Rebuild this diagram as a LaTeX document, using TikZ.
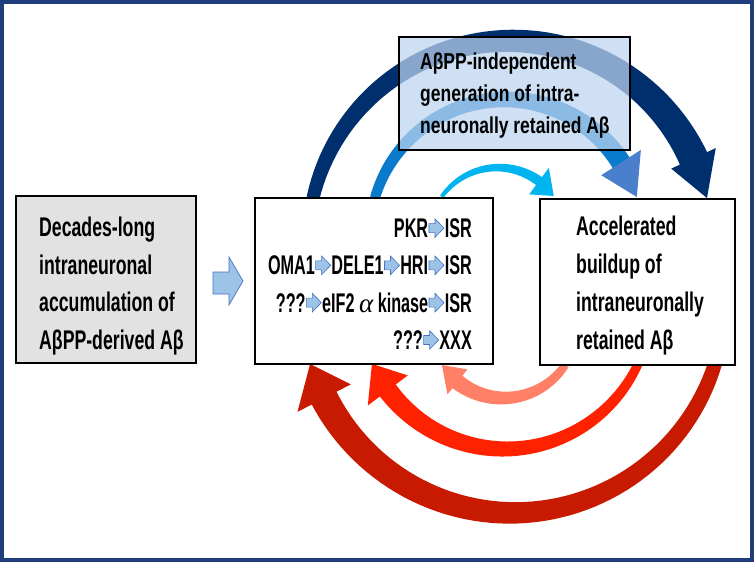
\documentclass[tikz,border=0pt]{standalone}
\usepackage{fontspec}
\setmainfont{Liberation Sans}[FakeStretch=0.655]
\newfontfamily\midfont{Liberation Sans}[FakeStretch=0.6]
\newfontfamily\topfont{Liberation Sans}[FakeStretch=0.76]
\newfontfamily\serifit{Liberation Serif}
\definecolor{framecol}{RGB}{31,61,122}
\definecolor{navyarc}{RGB}{0,47,110}
\definecolor{midblue}{RGB}{10,122,204}
\definecolor{midhead}{RGB}{74,127,203}
\definecolor{cyanarc}{RGB}{0,180,240}
\definecolor{darkred}{RGB}{200,26,0}
\definecolor{brightred}{RGB}{255,34,0}
\definecolor{salmon}{RGB}{255,128,102}
\definecolor{boxgray}{RGB}{226,226,226}
\definecolor{topfill}{RGB}{189,213,240}
\definecolor{arrowfill}{RGB}{157,195,230}
\definecolor{arrowline}{RGB}{68,114,196}
\newcommand\ba{\hspace{0.5pt}\tikz[x=1pt,y=1pt,baseline=0pt]\filldraw[fill=arrowfill,draw=arrowline,line width=0.6pt] (0,5) -- (6,5) -- (6,0.2) -- (15,9.5) -- (6,18.8) -- (6,14) -- (0,14) -- cycle;\hspace{0.5pt}}
% tapered curved arrow: cx cy R t1 t2 w1 w2 headwidth headlength
\newcommand\taper[9]{%
  \pgfmathsetmacro\tb{#5-(#9/#3)*180/pi}%
  \pgfmathsetmacro\te{\tb+0.8}%
  \fill[fill=\shaftc] plot[domain=#4:\te,samples=60] ({#1+(#3+(#6+(#7-#6)*(\x-#4)/(\te-#4))/2)*cos(\x)},{#2+(#3+(#6+(#7-#6)*(\x-#4)/(\te-#4))/2)*sin(\x)}) -- plot[domain=\te:#4,samples=60] ({#1+(#3-(#6+(#7-#6)*(\x-#4)/(\te-#4))/2)*cos(\x)},{#2+(#3-(#6+(#7-#6)*(\x-#4)/(\te-#4))/2)*sin(\x)}) -- cycle;
  \fill[fill=\headc] ({#1+(#3+#8/2)*cos(\tb)},{#2+(#3+#8/2)*sin(\tb)}) -- ({#1+#3*cos(#5)},{#2+#3*sin(#5)}) -- ({#1+(#3-#8/2)*cos(\tb)},{#2+(#3-#8/2)*sin(\tb)}) -- cycle;
}
\tikzset{
  box/.style={draw=black, line width=2.6pt, rectangle, inner sep=0pt},
  txt/.style={inner sep=0pt, font=\fontsize{27}{37.5}\selectfont\bfseries},
  toptxt/.style={inner sep=0pt, font=\topfont\fontsize{23}{32}\selectfont\bfseries},
}
\begin{document}
\begin{tikzpicture}[x=1pt,y=-1pt]
\useasboundingbox (0,0) rectangle (754,562);
\fill[white] (0,0) rectangle (754,562);
\draw[framecol, line width=3.5pt] (2,2) rectangle (752,560);
% blue arcs (upper)
\def\shaftc{navyarc}\def\headc{navyarc}
\taper{510}{242.8}{202}{192.8}{347.2}{13}{30}{49}{42}
\def\shaftc{midblue}\def\headc{midhead}
\taper{506}{236}{136.5}{196.2}{343.4}{10}{20}{47}{38}
\def\shaftc{cyanarc}\def\headc{cyanarc}
\taper{498}{236.6}{69}{215.3}{323.9}{4}{10}{33}{21}
% red arcs (lower)
\def\shaftc{darkred}\def\headc{darkred}
\taper{512.5}{300.9}{212}{17.3}{162.7}{14}{28}{60}{37}
\def\shaftc{brightred}\def\headc{brightred}
\taper{505}{302.4}{146.6}{24.8}{155.2}{9}{20}{50}{31}
\def\shaftc{salmon}\def\headc{salmon}
\taper{503.5}{324}{74}{33.7}{146.3}{8}{16}{32}{23}
% boxes
\node[box, fill=boxgray, minimum width=180pt, minimum height=167pt] (left) at (106,279.5) {};
\node[box, fill=white, minimum width=238pt, minimum height=166pt] (mid) at (374,281) {};
\node[box, fill=white, minimum width=195pt, minimum height=166pt] (right) at (637.5,282) {};
\node[box, fill=topfill, fill opacity=0.72, minimum width=231pt, minimum height=113pt] (top) at (514.5,93.5) {};
% block arrow between left and middle box
\filldraw[fill=arrowfill, draw=arrowline, line width=0.7pt] (213,272) -- (229,272) -- (229,257) -- (243,281) -- (229,305) -- (229,294) -- (213,294) -- cycle;
% texts
\node[txt, anchor=west, align=left] (lefttext) at (39,286) {Decades-long\\intraneuronal\\accumulation of\\AβPP-derived Aβ};
\node[txt, anchor=east, align=right, font=\midfont\fontsize{27}{37.3}\selectfont\bfseries] (midtext) at (472,284) {PKR\ba ISR\\OMA1\ba DELE1\ba HRI\ba ISR\\???\ba eIF2 {\serifit\mdseries\itshape α} kinase\ba ISR\\???\ba XXX};
\node[txt, anchor=west, align=left, font=\fontsize{27}{38}\selectfont\bfseries] (righttext) at (576,286) {Accelerated\\buildup of\\intraneuronally\\retained Aβ};
\node[toptxt, anchor=west, align=left] (toptext) at (420,96) {AβPP-independent\\generation of intra-\\neuronally retained Aβ};
\end{tikzpicture}
\end{document}
